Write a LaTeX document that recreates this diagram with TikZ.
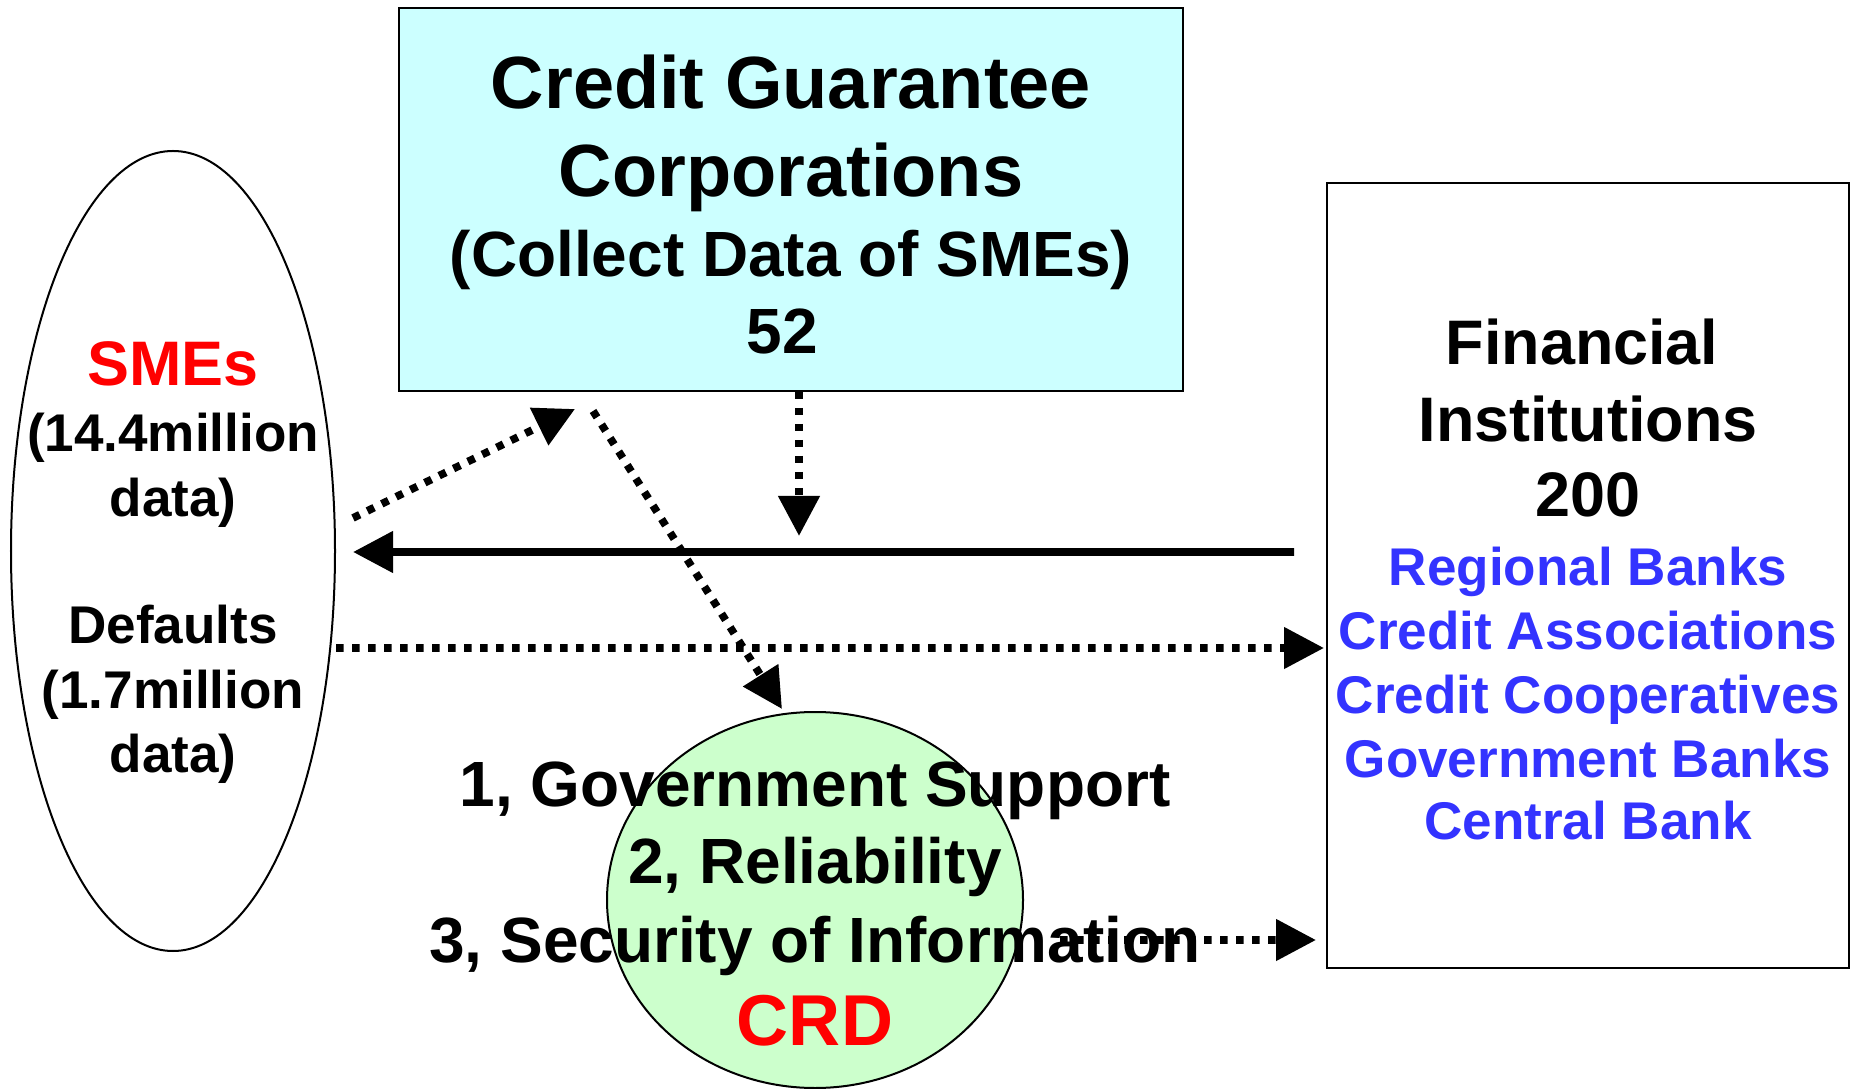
\documentclass[tikz,border=0pt]{standalone}
\usepackage{fontspec}
\setmainfont{Liberation Sans}
\usetikzlibrary{arrows.meta,shapes.geometric,calc}
\definecolor{cgfill}{RGB}{204,255,255}
\definecolor{crdfill}{RGB}{204,255,204}
\definecolor{fiblue}{RGB}{51,51,255}
\definecolor{redtxt}{RGB}{255,0,0}
\begin{document}
\begin{tikzpicture}[
  txt/.style={anchor=base, inner sep=0pt},
  szA/.style={font=\fontsize{21.05}{24}\selectfont\bfseries},
  szB/.style={font=\fontsize{18.2}{21}\selectfont\bfseries},
  szC/.style={font=\fontsize{17.9}{21}\selectfont\bfseries},
  szD/.style={font=\fontsize{15.1}{18}\selectfont\bfseries},
  szE/.style={font=\fontsize{20.5}{24}\selectfont\bfseries},
  tip/.style={-{Triangle[length=0.4cm,width=0.4cm]}},
  dotline/.style={tip, line width=0.077cm, dash pattern=on 0.075cm off 0.085cm},
  solidline/.style={tip, line width=0.077cm},
  shapeline/.style={draw=black, line width=0.02cm, inner sep=0pt}
]
\useasboundingbox (0,0) rectangle (18.51,-10.89);

% shapes
\node[shapeline, rectangle, fill=cgfill, minimum width=7.84cm, minimum height=3.83cm] (cg) at (7.91,-1.995) {};
\node[shapeline, ellipse, minimum width=3.24cm, minimum height=8.0cm] (smes) at (1.73,-5.51) {};
\node[shapeline, rectangle, minimum width=5.22cm, minimum height=7.85cm] (fi) at (15.88,-5.755) {};
\node[shapeline, ellipse, fill=crdfill, minimum width=4.16cm, minimum height=3.76cm] (crd) at (8.15,-9.0) {};

% top box text
\node[txt, szA] (cg1) at (7.91,-1.09) {Credit Guarantee};
\node[txt, szA] (cg2) at (7.91,-1.97) {Corporations};
\node[txt, szB] (cg3) at (7.91,-2.77) {(Collect Data of SMEs)};
\node[txt, szB] (cg4) at (7.82,-3.54) {52};

% SMEs text
\node[txt, szC, text=redtxt] (s1) at (1.73,-3.86) {SMEs};
\node[txt, szD] (s2) at (1.73,-4.52) {(14.4million};
\node[txt, szD] (s3) at (1.73,-5.16) {data)};
\node[txt, szD] (s4) at (1.73,-6.43) {Defaults};
\node[txt, szD] (s5) at (1.73,-7.08) {(1.7million};
\node[txt, szD] (s6) at (1.73,-7.72) {data)};

% Financial institutions text
\node[txt, szC] (f1) at (15.82,-3.65) {Financial};
\node[txt, szC] (f2) at (15.88,-4.42) {Institutions};
\node[txt, szC] (f3) at (15.88,-5.17) {200};
\node[txt, szD, text=fiblue] (f4) at (15.88,-5.86) {Regional Banks};
\node[txt, szD, text=fiblue] (f5) at (15.88,-6.49) {Credit Associations};
\node[txt, szD, text=fiblue] (f6) at (15.88,-7.13) {Credit Cooperatives};
\node[txt, szD, text=fiblue] (f7) at (15.88,-7.77) {Government Banks};
\node[txt, szD, text=fiblue] (f8) at (15.88,-8.39) {Central Bank};

% CRD text
\node[txt, szB] (c1) at (8.15,-8.06) {1, Government Support};
\node[txt, szB] (c2) at (8.15,-8.83) {2, Reliability};
\node[txt, szB] (c3) at (8.15,-9.62) {3, Security of Information};
\node[txt, szE, text=redtxt] (c4) at (8.15,-10.45) {CRD};

% connectors
\coordinate (a1s) at ($(smes.east)+(0.17,0.33)$);
\coordinate (a1e) at ($(cg.south)+(-2.16,-0.17)$);
\draw[dotline] (a1s) -- (a1e);

\coordinate (a2s) at ($(cg.south)+(-1.98,-0.19)$);
\coordinate (a2e) at ($(crd.north)+(-0.33,0.02)$);
\draw[dotline] (a2s) -- (a2e);

\coordinate (a3s) at ($(cg.south)+(0.08,0)$);
\coordinate (a3e) at ($(cg.south)+(0.08,-1.44)$);
\draw[dotline] (a3s) -- (a3e);

\coordinate (a4s) at ($(fi.west)+(-0.32,0.235)$);
\coordinate (a4e) at ($(smes.east)+(0.17,-0.01)$);
\draw[solidline] (a4s) -- (a4e);

\coordinate (a5s) at ($(smes.east)+(0,-0.97)$);
\coordinate (a5e) at ($(fi.west)+(-0.02,-0.725)$);
\draw[dotline] (a5s) -- (a5e);

\coordinate (a6s) at ($(c3.base)+(2.45,0.22)$);
\coordinate (a6e) at ($(fi.west)+(-0.10,-3.645)$);
\draw[dotline] (a6s) -- (a6e);
\end{tikzpicture}
\end{document}
